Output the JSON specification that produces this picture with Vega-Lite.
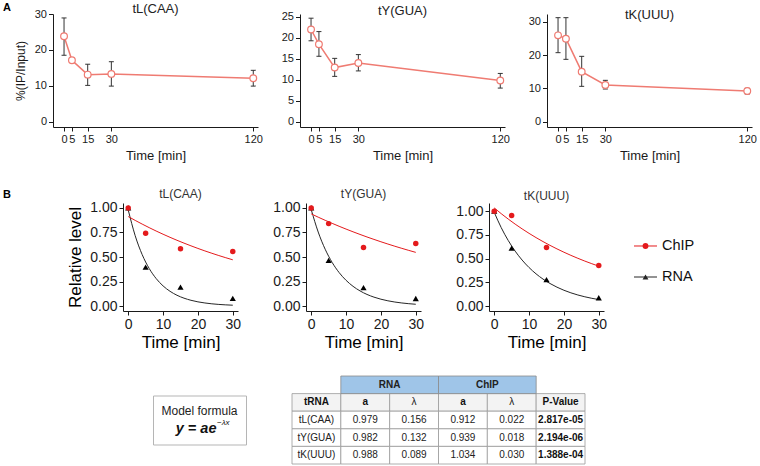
{
 "$schema": "https://vega.github.io/schema/vega-lite/v6.json",
 "padding": {"left": 0, "top": 2, "right": 0, "bottom": 0},
 "background": "white",
 "config": {
  "font": "Liberation Sans",
  "view": {"stroke": null},
  "axis": {"grid": false, "domainColor": "#1a1a1a", "tickColor": "#1a1a1a", "labelColor": "#1a1a1a", "titleColor": "#1a1a1a", "titleFontWeight": "normal", "labelFlush": false, "labelOverlap": false, "domainWidth": 1, "tickWidth": 1},
  "style": {"guide-title": {"fontWeight": "normal"}},
  "title": {"fontWeight": "normal", "color": "#222"}
 },
 "datasets": {
  "a_pts": [
   {"tRNA": "tL(CAA)", "time": 0, "mean": 23.8, "lo": 18.5, "hi": 28.9},
   {"tRNA": "tL(CAA)", "time": 5, "mean": 17.1, "lo": 16.7, "hi": 17.5},
   {"tRNA": "tL(CAA)", "time": 15, "mean": 13.1, "lo": 10.1, "hi": 16.0},
   {"tRNA": "tL(CAA)", "time": 30, "mean": 13.3, "lo": 9.9, "hi": 16.7},
   {"tRNA": "tL(CAA)", "time": 120, "mean": 12.1, "lo": 9.9, "hi": 14.3},
   {"tRNA": "tY(GUA)", "time": 0, "mean": 22.0, "lo": 19.3, "hi": 24.7},
   {"tRNA": "tY(GUA)", "time": 5, "mean": 18.5, "lo": 15.6, "hi": 21.5},
   {"tRNA": "tY(GUA)", "time": 15, "mean": 12.9, "lo": 10.8, "hi": 15.1},
   {"tRNA": "tY(GUA)", "time": 30, "mean": 14.0, "lo": 12.1, "hi": 16.0},
   {"tRNA": "tY(GUA)", "time": 120, "mean": 9.8, "lo": 8.0, "hi": 11.5},
   {"tRNA": "tK(UUU)", "time": 0, "mean": 25.9, "lo": 20.7, "hi": 31.2},
   {"tRNA": "tK(UUU)", "time": 5, "mean": 24.9, "lo": 18.7, "hi": 31.2},
   {"tRNA": "tK(UUU)", "time": 15, "mean": 15.0, "lo": 10.6, "hi": 19.6},
   {"tRNA": "tK(UUU)", "time": 30, "mean": 11.0, "lo": 9.8, "hi": 12.4},
   {"tRNA": "tK(UUU)", "time": 120, "mean": 9.2, "lo": 8.3, "hi": 10.0}
  ],
  "b_pts": [
   {"tRNA": "tL(CAA)", "series": "ChIP", "t": 0, "v": 1.0},
   {"tRNA": "tL(CAA)", "series": "ChIP", "t": 5, "v": 0.742},
   {"tRNA": "tL(CAA)", "series": "ChIP", "t": 15, "v": 0.583},
   {"tRNA": "tL(CAA)", "series": "ChIP", "t": 30, "v": 0.556},
   {"tRNA": "tL(CAA)", "series": "RNA", "t": 0, "v": 1.0},
   {"tRNA": "tL(CAA)", "series": "RNA", "t": 5, "v": 0.397},
   {"tRNA": "tL(CAA)", "series": "RNA", "t": 15, "v": 0.193},
   {"tRNA": "tL(CAA)", "series": "RNA", "t": 30, "v": 0.078},
   {"tRNA": "tY(GUA)", "series": "ChIP", "t": 0, "v": 1.0},
   {"tRNA": "tY(GUA)", "series": "ChIP", "t": 5, "v": 0.84},
   {"tRNA": "tY(GUA)", "series": "ChIP", "t": 15, "v": 0.597},
   {"tRNA": "tY(GUA)", "series": "ChIP", "t": 30, "v": 0.638},
   {"tRNA": "tY(GUA)", "series": "RNA", "t": 0, "v": 1.0},
   {"tRNA": "tY(GUA)", "series": "RNA", "t": 5, "v": 0.466},
   {"tRNA": "tY(GUA)", "series": "RNA", "t": 15, "v": 0.188},
   {"tRNA": "tY(GUA)", "series": "RNA", "t": 30, "v": 0.077},
   {"tRNA": "tK(UUU)", "series": "ChIP", "t": 0, "v": 1.0},
   {"tRNA": "tK(UUU)", "series": "ChIP", "t": 5, "v": 0.954},
   {"tRNA": "tK(UUU)", "series": "ChIP", "t": 15, "v": 0.618},
   {"tRNA": "tK(UUU)", "series": "ChIP", "t": 30, "v": 0.428},
   {"tRNA": "tK(UUU)", "series": "RNA", "t": 0, "v": 1.0},
   {"tRNA": "tK(UUU)", "series": "RNA", "t": 5, "v": 0.611},
   {"tRNA": "tK(UUU)", "series": "RNA", "t": 15, "v": 0.279},
   {"tRNA": "tK(UUU)", "series": "RNA", "t": 30, "v": 0.088}
  ],
  "b_fit": [
   {"tRNA":"tL(CAA)","series":"RNA","t":0,"v":0.979},{"tRNA":"tL(CAA)","series":"RNA","t":2,"v":0.7166},{"tRNA":"tL(CAA)","series":"RNA","t":4,"v":0.5246},{"tRNA":"tL(CAA)","series":"RNA","t":6,"v":0.384},{"tRNA":"tL(CAA)","series":"RNA","t":8,"v":0.2811},{"tRNA":"tL(CAA)","series":"RNA","t":10,"v":0.2057},{"tRNA":"tL(CAA)","series":"RNA","t":12,"v":0.1506},{"tRNA":"tL(CAA)","series":"RNA","t":14,"v":0.1102},{"tRNA":"tL(CAA)","series":"RNA","t":16,"v":0.0807},{"tRNA":"tL(CAA)","series":"RNA","t":18,"v":0.0591},{"tRNA":"tL(CAA)","series":"RNA","t":20,"v":0.0432},{"tRNA":"tL(CAA)","series":"RNA","t":22,"v":0.0317},{"tRNA":"tL(CAA)","series":"RNA","t":24,"v":0.0232},{"tRNA":"tL(CAA)","series":"RNA","t":26,"v":0.017},{"tRNA":"tL(CAA)","series":"RNA","t":28,"v":0.0124},{"tRNA":"tL(CAA)","series":"RNA","t":30,"v":0.0091},
   {"tRNA":"tL(CAA)","series":"ChIP","t":0,"v":0.912},{"tRNA":"tL(CAA)","series":"ChIP","t":2,"v":0.8728},{"tRNA":"tL(CAA)","series":"ChIP","t":4,"v":0.8352},{"tRNA":"tL(CAA)","series":"ChIP","t":6,"v":0.7992},{"tRNA":"tL(CAA)","series":"ChIP","t":8,"v":0.7648},{"tRNA":"tL(CAA)","series":"ChIP","t":10,"v":0.7319},{"tRNA":"tL(CAA)","series":"ChIP","t":12,"v":0.7004},{"tRNA":"tL(CAA)","series":"ChIP","t":14,"v":0.6702},{"tRNA":"tL(CAA)","series":"ChIP","t":16,"v":0.6414},{"tRNA":"tL(CAA)","series":"ChIP","t":18,"v":0.6138},{"tRNA":"tL(CAA)","series":"ChIP","t":20,"v":0.5873},{"tRNA":"tL(CAA)","series":"ChIP","t":22,"v":0.562},{"tRNA":"tL(CAA)","series":"ChIP","t":24,"v":0.5379},{"tRNA":"tL(CAA)","series":"ChIP","t":26,"v":0.5147},{"tRNA":"tL(CAA)","series":"ChIP","t":28,"v":0.4926},{"tRNA":"tL(CAA)","series":"ChIP","t":30,"v":0.4714},
   {"tRNA":"tY(GUA)","series":"RNA","t":0,"v":0.982},{"tRNA":"tY(GUA)","series":"RNA","t":2,"v":0.7542},{"tRNA":"tY(GUA)","series":"RNA","t":4,"v":0.5792},{"tRNA":"tY(GUA)","series":"RNA","t":6,"v":0.4448},{"tRNA":"tY(GUA)","series":"RNA","t":8,"v":0.3416},{"tRNA":"tY(GUA)","series":"RNA","t":10,"v":0.2623},{"tRNA":"tY(GUA)","series":"RNA","t":12,"v":0.2014},{"tRNA":"tY(GUA)","series":"RNA","t":14,"v":0.1547},{"tRNA":"tY(GUA)","series":"RNA","t":16,"v":0.1188},{"tRNA":"tY(GUA)","series":"RNA","t":18,"v":0.0913},{"tRNA":"tY(GUA)","series":"RNA","t":20,"v":0.0701},{"tRNA":"tY(GUA)","series":"RNA","t":22,"v":0.0538},{"tRNA":"tY(GUA)","series":"RNA","t":24,"v":0.0413},{"tRNA":"tY(GUA)","series":"RNA","t":26,"v":0.0317},{"tRNA":"tY(GUA)","series":"RNA","t":28,"v":0.0244},{"tRNA":"tY(GUA)","series":"RNA","t":30,"v":0.0187},
   {"tRNA":"tY(GUA)","series":"ChIP","t":0,"v":0.939},{"tRNA":"tY(GUA)","series":"ChIP","t":2,"v":0.9058},{"tRNA":"tY(GUA)","series":"ChIP","t":4,"v":0.8737},{"tRNA":"tY(GUA)","series":"ChIP","t":6,"v":0.8429},{"tRNA":"tY(GUA)","series":"ChIP","t":8,"v":0.813},{"tRNA":"tY(GUA)","series":"ChIP","t":10,"v":0.7843},{"tRNA":"tY(GUA)","series":"ChIP","t":12,"v":0.7566},{"tRNA":"tY(GUA)","series":"ChIP","t":14,"v":0.7299},{"tRNA":"tY(GUA)","series":"ChIP","t":16,"v":0.704},{"tRNA":"tY(GUA)","series":"ChIP","t":18,"v":0.6792},{"tRNA":"tY(GUA)","series":"ChIP","t":20,"v":0.6551},{"tRNA":"tY(GUA)","series":"ChIP","t":22,"v":0.632},{"tRNA":"tY(GUA)","series":"ChIP","t":24,"v":0.6096},{"tRNA":"tY(GUA)","series":"ChIP","t":26,"v":0.5881},{"tRNA":"tY(GUA)","series":"ChIP","t":28,"v":0.5673},{"tRNA":"tY(GUA)","series":"ChIP","t":30,"v":0.5472},
   {"tRNA":"tK(UUU)","series":"RNA","t":0,"v":0.988},{"tRNA":"tK(UUU)","series":"RNA","t":2,"v":0.8269},{"tRNA":"tK(UUU)","series":"RNA","t":4,"v":0.6921},{"tRNA":"tK(UUU)","series":"RNA","t":6,"v":0.5792},{"tRNA":"tK(UUU)","series":"RNA","t":8,"v":0.4848},{"tRNA":"tK(UUU)","series":"RNA","t":10,"v":0.4058},{"tRNA":"tK(UUU)","series":"RNA","t":12,"v":0.3396},{"tRNA":"tK(UUU)","series":"RNA","t":14,"v":0.2842},{"tRNA":"tK(UUU)","series":"RNA","t":16,"v":0.2379},{"tRNA":"tK(UUU)","series":"RNA","t":18,"v":0.1991},{"tRNA":"tK(UUU)","series":"RNA","t":20,"v":0.1666},{"tRNA":"tK(UUU)","series":"RNA","t":22,"v":0.1394},{"tRNA":"tK(UUU)","series":"RNA","t":24,"v":0.1167},{"tRNA":"tK(UUU)","series":"RNA","t":26,"v":0.0977},{"tRNA":"tK(UUU)","series":"RNA","t":28,"v":0.0818},{"tRNA":"tK(UUU)","series":"RNA","t":30,"v":0.0684},
   {"tRNA":"tK(UUU)","series":"ChIP","t":0,"v":1.034},{"tRNA":"tK(UUU)","series":"ChIP","t":2,"v":0.9738},{"tRNA":"tK(UUU)","series":"ChIP","t":4,"v":0.9171},{"tRNA":"tK(UUU)","series":"ChIP","t":6,"v":0.8637},{"tRNA":"tK(UUU)","series":"ChIP","t":8,"v":0.8134},{"tRNA":"tK(UUU)","series":"ChIP","t":10,"v":0.766},{"tRNA":"tK(UUU)","series":"ChIP","t":12,"v":0.7214},{"tRNA":"tK(UUU)","series":"ChIP","t":14,"v":0.6794},{"tRNA":"tK(UUU)","series":"ChIP","t":16,"v":0.6398},{"tRNA":"tK(UUU)","series":"ChIP","t":18,"v":0.6025},{"tRNA":"tK(UUU)","series":"ChIP","t":20,"v":0.5675},{"tRNA":"tK(UUU)","series":"ChIP","t":22,"v":0.5344},{"tRNA":"tK(UUU)","series":"ChIP","t":24,"v":0.5033},{"tRNA":"tK(UUU)","series":"ChIP","t":26,"v":0.474},{"tRNA":"tK(UUU)","series":"ChIP","t":28,"v":0.4464},{"tRNA":"tK(UUU)","series":"ChIP","t":30,"v":0.4204}
  ],
  "cells": [
   {"row": "hdr", "col": "c1", "text": "tRNA"},
   {"row": "hdr", "col": "c2", "text": "a"},
   {"row": "hdr", "col": "c3", "text": "λ"},
   {"row": "hdr", "col": "c4", "text": "a"},
   {"row": "hdr", "col": "c5", "text": "λ"},
   {"row": "hdr", "col": "c6", "text": "P-Value"},
   {"row": "tL(CAA)", "col": "c1", "text": "tL(CAA)"},
   {"row": "tL(CAA)", "col": "c2", "text": "0.979"},
   {"row": "tL(CAA)", "col": "c3", "text": "0.156"},
   {"row": "tL(CAA)", "col": "c4", "text": "0.912"},
   {"row": "tL(CAA)", "col": "c5", "text": "0.022"},
   {"row": "tL(CAA)", "col": "c6", "text": "2.817e-05"},
   {"row": "tY(GUA)", "col": "c1", "text": "tY(GUA)"},
   {"row": "tY(GUA)", "col": "c2", "text": "0.982"},
   {"row": "tY(GUA)", "col": "c3", "text": "0.132"},
   {"row": "tY(GUA)", "col": "c4", "text": "0.939"},
   {"row": "tY(GUA)", "col": "c5", "text": "0.018"},
   {"row": "tY(GUA)", "col": "c6", "text": "2.194e-06"},
   {"row": "tK(UUU)", "col": "c1", "text": "tK(UUU)"},
   {"row": "tK(UUU)", "col": "c2", "text": "0.988"},
   {"row": "tK(UUU)", "col": "c3", "text": "0.089"},
   {"row": "tK(UUU)", "col": "c4", "text": "1.034"},
   {"row": "tK(UUU)", "col": "c5", "text": "0.030"},
   {"row": "tK(UUU)", "col": "c6", "text": "1.388e-04"}
  ],
  "groups": [
   {"grp": "RNA", "from": "c2", "mid": "c3", "to": "c4"},
   {"grp": "ChIP", "from": "c4", "mid": "c5", "to": "c6"}
  ]
 },
 "spacing": 25,
 "vconcat": [
  {
   "bounds": "flush",
   "spacing": 42,
   "hconcat": [
    {"width": 11, "height": 113, "data": {"values": []}, "mark": "point",
     "title": {"text": "A", "anchor": "start", "fontSize": 11, "fontWeight": "bold", "color": "#000", "offset": 1, "dx": 3}},
    {
     "width": 205, "height": 113,
     "title": {"text": "tL(CAA)", "fontSize": 13, "offset": -7.5},
     "data": {"name": "a_pts"},
     "transform": [{"filter": "datum.tRNA === 'tL(CAA)'"}],
     "encoding": {"x": {"field": "time", "type": "quantitative", "title": "Time [min]", "scale": {"domain": [-7, 123], "nice": false, "zero": false}, "axis": {"values": [0, 5, 15, 30, 120], "titleFontSize": 13, "titleFontWeight": "normal", "labelFontSize": 11, "tickSize": 4, "labelPadding": 2, "titlePadding": 5, "labelOverlap": false, "labelFlush": false}}},
     "layer": [
      {"mark": {"type": "line", "color": "#ef7b72", "strokeWidth": 1.5}, "encoding": {"y": {"field": "mean", "type": "quantitative", "title": "%(IP/Input)", "scale": {"domain": [-1.5, 30], "nice": false, "zero": false}, "axis": {"values": [0, 10, 20, 30], "titleFontSize": 12, "titleFontWeight": "normal", "labelFontSize": 11, "tickSize": 4.5, "labelPadding": 2, "titlePadding": 7, "labelOverlap": false, "labelFlush": false}}}},
      {"mark": {"type": "rule", "color": "#333", "strokeWidth": 1}, "encoding": {"y": {"field": "lo", "type": "quantitative", "title": "%(IP/Input)", "axis": {"values": [0, 10, 20, 30], "titleFontSize": 12, "titleFontWeight": "normal", "labelFontSize": 11, "tickSize": 4.5, "labelPadding": 2, "titlePadding": 7, "labelOverlap": false, "labelFlush": false}}, "y2": {"field": "hi"}}},
      {"mark": {"type": "tick", "orient": "horizontal", "color": "#333", "size": 5, "thickness": 1, "opacity": 1}, "encoding": {"y": {"field": "lo", "type": "quantitative", "title": "%(IP/Input)", "axis": {"values": [0, 10, 20, 30], "titleFontSize": 12, "titleFontWeight": "normal", "labelFontSize": 11, "tickSize": 4.5, "labelPadding": 2, "titlePadding": 7, "labelOverlap": false, "labelFlush": false}}}},
      {"mark": {"type": "tick", "orient": "horizontal", "color": "#333", "size": 5, "thickness": 1, "opacity": 1}, "encoding": {"y": {"field": "hi", "type": "quantitative", "title": "%(IP/Input)", "axis": {"values": [0, 10, 20, 30], "titleFontSize": 12, "titleFontWeight": "normal", "labelFontSize": 11, "tickSize": 4.5, "labelPadding": 2, "titlePadding": 7, "labelOverlap": false, "labelFlush": false}}}},
      {"mark": {"type": "point", "filled": true, "fill": "white", "stroke": "#ef7b72", "strokeWidth": 1.2, "size": 45, "opacity": 1}, "encoding": {"y": {"field": "mean", "type": "quantitative", "title": "%(IP/Input)", "axis": {"values": [0, 10, 20, 30], "titleFontSize": 12, "titleFontWeight": "normal", "labelFontSize": 11, "tickSize": 4.5, "labelPadding": 2, "titlePadding": 7, "labelOverlap": false, "labelFlush": false}}}}
     ]
    },
    {
     "width": 205, "height": 113,
     "title": {"text": "tY(GUA)", "fontSize": 13, "offset": -7.5},
     "data": {"name": "a_pts"},
     "transform": [{"filter": "datum.tRNA === 'tY(GUA)'"}],
     "encoding": {"x": {"field": "time", "type": "quantitative", "title": "Time [min]", "scale": {"domain": [-7, 123], "nice": false, "zero": false}, "axis": {"values": [0, 5, 15, 30, 120], "titleFontSize": 13, "titleFontWeight": "normal", "labelFontSize": 11, "tickSize": 4, "labelPadding": 2, "titlePadding": 5, "labelOverlap": false, "labelFlush": false}}},
     "layer": [
      {"mark": {"type": "line", "color": "#ef7b72", "strokeWidth": 1.5}, "encoding": {"y": {"field": "mean", "type": "quantitative", "title": null, "scale": {"domain": [-1.3, 25.7], "nice": false, "zero": false}, "axis": {"values": [0, 5, 10, 15, 20, 25], "labelFontSize": 11, "tickSize": 4.5, "labelPadding": 2, "labelOverlap": false, "labelFlush": false}}}},
      {"mark": {"type": "rule", "color": "#333", "strokeWidth": 1}, "encoding": {"y": {"field": "lo", "type": "quantitative", "title": null, "axis": {"values": [0, 5, 10, 15, 20, 25], "labelFontSize": 11, "tickSize": 4.5, "labelPadding": 2, "labelOverlap": false, "labelFlush": false}}, "y2": {"field": "hi"}}},
      {"mark": {"type": "tick", "orient": "horizontal", "color": "#333", "size": 5, "thickness": 1, "opacity": 1}, "encoding": {"y": {"field": "lo", "type": "quantitative", "title": null, "axis": {"values": [0, 5, 10, 15, 20, 25], "labelFontSize": 11, "tickSize": 4.5, "labelPadding": 2, "labelOverlap": false, "labelFlush": false}}}},
      {"mark": {"type": "tick", "orient": "horizontal", "color": "#333", "size": 5, "thickness": 1, "opacity": 1}, "encoding": {"y": {"field": "hi", "type": "quantitative", "title": null, "axis": {"values": [0, 5, 10, 15, 20, 25], "labelFontSize": 11, "tickSize": 4.5, "labelPadding": 2, "labelOverlap": false, "labelFlush": false}}}},
      {"mark": {"type": "point", "filled": true, "fill": "white", "stroke": "#ef7b72", "strokeWidth": 1.2, "size": 45, "opacity": 1}, "encoding": {"y": {"field": "mean", "type": "quantitative", "title": null, "axis": {"values": [0, 5, 10, 15, 20, 25], "labelFontSize": 11, "tickSize": 4.5, "labelPadding": 2, "labelOverlap": false, "labelFlush": false}}}}
     ]
    },
    {
     "width": 205, "height": 113,
     "title": {"text": "tK(UUU)", "fontSize": 13, "offset": -7.5},
     "data": {"name": "a_pts"},
     "transform": [{"filter": "datum.tRNA === 'tK(UUU)'"}],
     "encoding": {"x": {"field": "time", "type": "quantitative", "title": "Time [min]", "scale": {"domain": [-7, 123], "nice": false, "zero": false}, "axis": {"values": [0, 5, 15, 30, 120], "titleFontSize": 13, "titleFontWeight": "normal", "labelFontSize": 11, "tickSize": 4, "labelPadding": 2, "titlePadding": 5, "labelOverlap": false, "labelFlush": false}}},
     "layer": [
      {"mark": {"type": "line", "color": "#ef7b72", "strokeWidth": 1.5}, "encoding": {"y": {"field": "mean", "type": "quantitative", "title": null, "scale": {"domain": [-1.6, 32.3], "nice": false, "zero": false}, "axis": {"values": [0, 10, 20, 30], "labelFontSize": 11, "tickSize": 4.5, "labelPadding": 2, "labelOverlap": false, "labelFlush": false}}}},
      {"mark": {"type": "rule", "color": "#333", "strokeWidth": 1}, "encoding": {"y": {"field": "lo", "type": "quantitative", "title": null, "axis": {"values": [0, 10, 20, 30], "labelFontSize": 11, "tickSize": 4.5, "labelPadding": 2, "labelOverlap": false, "labelFlush": false}}, "y2": {"field": "hi"}}},
      {"mark": {"type": "tick", "orient": "horizontal", "color": "#333", "size": 5, "thickness": 1, "opacity": 1}, "encoding": {"y": {"field": "lo", "type": "quantitative", "title": null, "axis": {"values": [0, 10, 20, 30], "labelFontSize": 11, "tickSize": 4.5, "labelPadding": 2, "labelOverlap": false, "labelFlush": false}}}},
      {"mark": {"type": "tick", "orient": "horizontal", "color": "#333", "size": 5, "thickness": 1, "opacity": 1}, "encoding": {"y": {"field": "hi", "type": "quantitative", "title": null, "axis": {"values": [0, 10, 20, 30], "labelFontSize": 11, "tickSize": 4.5, "labelPadding": 2, "labelOverlap": false, "labelFlush": false}}}},
      {"mark": {"type": "point", "filled": true, "fill": "white", "stroke": "#ef7b72", "strokeWidth": 1.2, "size": 45, "opacity": 1}, "encoding": {"y": {"field": "mean", "type": "quantitative", "title": null, "axis": {"values": [0, 10, 20, 30], "labelFontSize": 11, "tickSize": 4.5, "labelPadding": 2, "labelOverlap": false, "labelFlush": false}}}}
     ]
    }
   ]
  },
  {
   "bounds": "flush",
   "spacing": 30,
   "hconcat": [
    {"width": 92.5, "height": 108, "data": {"values": []}, "mark": "point",
     "title": {"text": "B", "anchor": "start", "fontSize": 11, "fontWeight": "bold", "color": "#000", "offset": 3, "dx": 3}},
    {
     "width": 115, "height": 108,
     "title": {"text": "tL(CAA)", "fontSize": 12, "offset": 0, "color": "#333"},
     "encoding": {
      "x": {"field": "t", "type": "quantitative", "title": "Time [min]", "scale": {"domain": [-1.5, 31.5], "nice": false, "zero": false}, "axis": {"values": [0, 10, 20, 30], "titleFontSize": 17, "titleFontWeight": "normal", "labelFontSize": 14, "tickSize": 4, "labelPadding": 2, "titlePadding": 3, "titleColor": "#000", "labelOverlap": false, "labelFlush": false}},
      "y": {"field": "v", "type": "quantitative", "title": "Relative level", "scale": {"domain": [-0.05, 1.05], "nice": false, "zero": false}, "axis": {"values": [0, 0.25, 0.5, 0.75, 1], "format": ".2f", "titleFontSize": 17, "titleFontWeight": "normal", "labelFontSize": 14, "tickSize": 4, "labelPadding": 2, "titlePadding": 5, "titleColor": "#000", "labelOverlap": false, "labelFlush": false}}
     },
     "layer": [
      {"data": {"name": "b_fit"}, "transform": [{"filter": "datum.tRNA === 'tL(CAA)'"}],
       "mark": {"type": "line", "strokeWidth": 1, "interpolate": "monotone"},
       "encoding": {"color": {"field": "series", "type": "nominal", "scale": {"domain": ["ChIP", "RNA"], "range": ["#e41a1c", "#262626"]}, "legend": null}}},
      {"data": {"name": "b_pts"}, "transform": [{"filter": "datum.tRNA === 'tL(CAA)' && datum.series === 'RNA'"}],
       "mark": {"type": "point", "shape": "triangle-up", "filled": true, "size": 38, "color": "#000", "opacity": 1}},
      {"data": {"name": "b_pts"}, "transform": [{"filter": "datum.tRNA === 'tL(CAA)' && datum.series === 'ChIP'"}],
       "mark": {"type": "point", "shape": "circle", "filled": true, "size": 30, "color": "#e41a1c", "opacity": 1}}
     ]
    },
    {"width": 8, "height": 108, "data": {"values": []}, "mark": "point"},
    {
     "width": 115, "height": 108,
     "title": {"text": "tY(GUA)", "fontSize": 12, "offset": 0, "color": "#333"},
     "encoding": {
      "x": {"field": "t", "type": "quantitative", "title": "Time [min]", "scale": {"domain": [-1.5, 31.5], "nice": false, "zero": false}, "axis": {"values": [0, 10, 20, 30], "titleFontSize": 17, "titleFontWeight": "normal", "labelFontSize": 14, "tickSize": 4, "labelPadding": 2, "titlePadding": 3, "titleColor": "#000", "labelOverlap": false, "labelFlush": false}},
      "y": {"field": "v", "type": "quantitative", "title": null, "scale": {"domain": [-0.05, 1.05], "nice": false, "zero": false}, "axis": {"values": [0, 0.25, 0.5, 0.75, 1], "format": ".2f", "labelFontSize": 14, "tickSize": 4, "labelPadding": 2, "labelOverlap": false, "labelFlush": false}}
     },
     "layer": [
      {"data": {"name": "b_fit"}, "transform": [{"filter": "datum.tRNA === 'tY(GUA)'"}],
       "mark": {"type": "line", "strokeWidth": 1, "interpolate": "monotone"},
       "encoding": {"color": {"field": "series", "type": "nominal", "scale": {"domain": ["ChIP", "RNA"], "range": ["#e41a1c", "#262626"]}, "legend": null}}},
      {"data": {"name": "b_pts"}, "transform": [{"filter": "datum.tRNA === 'tY(GUA)' && datum.series === 'RNA'"}],
       "mark": {"type": "point", "shape": "triangle-up", "filled": true, "size": 38, "color": "#000", "opacity": 1}},
      {"data": {"name": "b_pts"}, "transform": [{"filter": "datum.tRNA === 'tY(GUA)' && datum.series === 'ChIP'"}],
       "mark": {"type": "point", "shape": "circle", "filled": true, "size": 30, "color": "#e41a1c", "opacity": 1}}
     ]
    },
    {"width": 8, "height": 108, "data": {"values": []}, "mark": "point"},
    {
     "width": 115, "height": 108,
     "title": {"text": "tK(UUU)", "fontSize": 12, "offset": 0, "color": "#333"},
     "encoding": {
      "x": {"field": "t", "type": "quantitative", "title": "Time [min]", "scale": {"domain": [-1.5, 31.5], "nice": false, "zero": false}, "axis": {"values": [0, 10, 20, 30], "titleFontSize": 17, "titleFontWeight": "normal", "labelFontSize": 14, "tickSize": 4, "labelPadding": 2, "titlePadding": 3, "titleColor": "#000", "labelOverlap": false, "labelFlush": false}},
      "y": {"field": "v", "type": "quantitative", "title": null, "scale": {"domain": [-0.052, 1.086], "nice": false, "zero": false}, "axis": {"values": [0, 0.25, 0.5, 0.75, 1], "format": ".2f", "labelFontSize": 14, "tickSize": 4, "labelPadding": 2, "labelOverlap": false, "labelFlush": false}}
     },
     "layer": [
      {"data": {"name": "b_fit"}, "transform": [{"filter": "datum.tRNA === 'tK(UUU)'"}],
       "mark": {"type": "line", "strokeWidth": 1, "interpolate": "monotone"},
       "encoding": {"color": {"field": "series", "type": "nominal", "scale": {"domain": ["ChIP", "RNA"], "range": ["#e41a1c", "#262626"]}, "legend": null}}},
      {"data": {"name": "b_pts"}, "transform": [{"filter": "datum.tRNA === 'tK(UUU)' && datum.series === 'RNA'"}],
       "mark": {"type": "point", "shape": "triangle-up", "filled": true, "size": 38, "color": "#000", "opacity": 1}},
      {"data": {"name": "b_pts"}, "transform": [{"filter": "datum.tRNA === 'tK(UUU)' && datum.series === 'ChIP'"}],
       "mark": {"type": "point", "shape": "circle", "filled": true, "size": 30, "color": "#e41a1c", "opacity": 1}}
     ]
    },
    {
     "width": 23, "height": 117,
     "data": {"values": [{"series": "ChIP"}, {"series": "RNA"}]},
     "encoding": {"y": {"field": "series", "type": "nominal", "scale": {"type": "band", "paddingInner": 0, "paddingOuter": 0.887}, "axis": null}},
     "layer": [
      {"mark": {"type": "rule", "strokeWidth": 1},
       "encoding": {"x": {"datum": 0, "type": "quantitative", "scale": {"domain": [0, 1], "nice": false, "zero": false}, "axis": null}, "x2": {"datum": 1},
        "color": {"field": "series", "type": "nominal", "scale": {"domain": ["ChIP", "RNA"], "range": ["#e41a1c", "#262626"]}, "legend": null}}},
      {"mark": {"type": "point", "filled": true, "opacity": 1, "size": 34},
       "encoding": {"x": {"datum": 0.5, "type": "quantitative"},
        "shape": {"field": "series", "type": "nominal", "scale": {"domain": ["ChIP", "RNA"], "range": ["circle", "triangle-up"]}, "legend": null},
        "color": {"field": "series", "type": "nominal", "legend": null}}},
      {"mark": {"type": "text", "align": "left", "dx": 5, "fontSize": 14.5, "color": "#111"},
       "encoding": {"x": {"datum": 1, "type": "quantitative"}, "text": {"field": "series"}}}
     ]
    }
   ]
  },
  {
   "bounds": "flush",
   "spacing": 46,
   "center": true,
   "hconcat": [
    {"width": 107, "height": 49, "data": {"values": []}, "mark": "point"},
    {
     "width": 93, "height": 49,
     "view": {"stroke": "#b5b5b5", "strokeWidth": 1},
     "data": {"values": [{"line": "l1", "txt": "Model formula", "sup": ""}, {"line": "l2", "txt": "y = ae", "sup": "−λx"}]},
     "encoding": {"y": {"field": "line", "type": "nominal", "scale": {"type": "point", "padding": 0.79}, "axis": null}},
     "layer": [
      {"transform": [{"filter": "datum.line === 'l1'"}], "mark": {"type": "text", "fontSize": 12, "color": "#222"}, "encoding": {"text": {"field": "txt"}}},
      {"transform": [{"filter": "datum.line === 'l2'"}], "mark": {"type": "text", "fontSize": 14.5, "fontWeight": "bold", "fontStyle": "italic", "align": "right", "dx": 17, "color": "#111"}, "encoding": {"text": {"field": "txt"}}},
      {"transform": [{"filter": "datum.line === 'l2'"}], "mark": {"type": "text", "fontSize": 8, "fontStyle": "italic", "align": "left", "dx": 17.5, "dy": -6, "color": "#111"}, "encoding": {"text": {"field": "sup"}}}
     ]
    },
    {
     "width": 293, "height": 88,
     "layer": [
      {"data": {"name": "cells"},
       "mark": {"type": "rect", "stroke": "#9a9a9a", "strokeWidth": 0.8},
       "encoding": {
        "x": {"field": "col", "type": "nominal", "scale": {"domain": ["c1", "c2", "c3", "c4", "c5", "c6"], "paddingInner": 0, "paddingOuter": 0}, "axis": null},
        "y": {"field": "row", "type": "nominal", "scale": {"domain": ["grp", "hdr", "tL(CAA)", "tY(GUA)", "tK(UUU)"], "paddingInner": 0, "paddingOuter": 0}, "axis": null},
        "fill": {"condition": {"test": "datum.row === 'hdr'", "value": "#f3f3f3"}, "value": "#ffffff"}
       }},
      {"data": {"name": "groups"},
       "mark": {"type": "rect", "fill": "#9fc5e8", "stroke": "#8a8a8a", "strokeWidth": 0.8},
       "encoding": {
        "x": {"field": "from", "type": "nominal", "bandPosition": 0},
        "x2": {"field": "to", "bandPosition": 0},
        "y": {"datum": "grp", "type": "nominal"}
       }},
      {"data": {"name": "groups"},
       "mark": {"type": "text", "fontSize": 10, "fontWeight": "bold", "color": "#222"},
       "encoding": {
        "x": {"field": "mid", "type": "nominal", "bandPosition": 0},
        "y": {"datum": "grp", "type": "nominal"},
        "text": {"field": "grp"}
       }},
      {"data": {"name": "cells"},
       "transform": [{"filter": "!((datum.row === 'hdr' && datum.text !== 'λ') || datum.col === 'c6')"}],
       "mark": {"type": "text", "fontSize": 10, "color": "#222"},
       "encoding": {"x": {"field": "col", "type": "nominal"}, "y": {"field": "row", "type": "nominal"}, "text": {"field": "text"}}},
      {"data": {"name": "cells"},
       "transform": [{"filter": "(datum.row === 'hdr' && datum.text !== 'λ') || datum.col === 'c6'"}],
       "mark": {"type": "text", "fontSize": 10, "fontWeight": "bold", "color": "#111"},
       "encoding": {"x": {"field": "col", "type": "nominal"}, "y": {"field": "row", "type": "nominal"}, "text": {"field": "text"}}}
     ]
    }
   ]
  }
 ]
}
